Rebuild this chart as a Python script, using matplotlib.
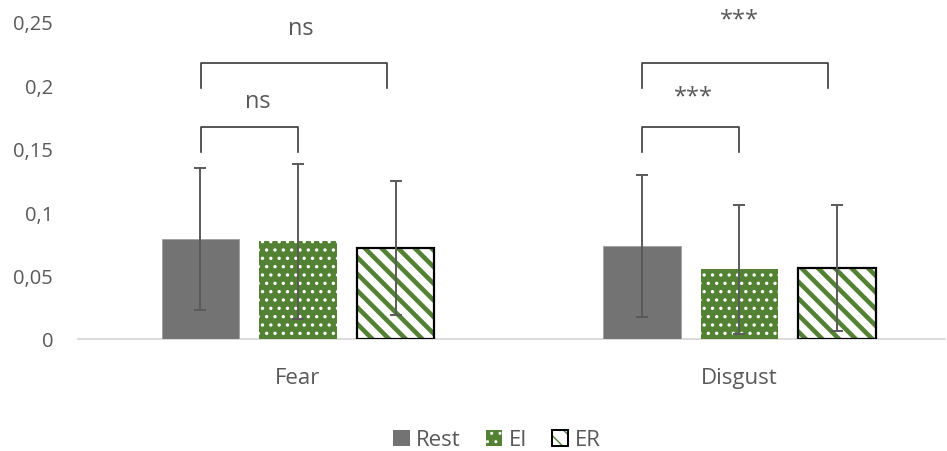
import matplotlib
matplotlib.use("Agg")
import matplotlib.pyplot as plt
from matplotlib.patches import Patch
import numpy as np

# Data
categories = ["Fear", "Disgust"]
series = ["Rest", "EI", "ER"]
means = {
    "Rest": [0.079, 0.073],
    "EI": [0.077, 0.055],
    "ER": [0.072, 0.056],
}
errors = {
    "Rest": [0.056, 0.056],
    "EI": [0.061, 0.051],
    "ER": [0.053, 0.050],
}
ytick_values = [0, 0.05, 0.1, 0.15, 0.2, 0.25]
ytick_labels = ["0", "0,05", "0,1", "0,15", "0,2", "0,25"]
# significance labels per category: inner (Rest vs EI), outer (Rest vs ER)
sig_inner = ["ns", "***"]
sig_outer = ["ns", "***"]

plt.rcParams["font.family"] = ["Open Sans", "DejaVu Sans"]
TEXT = "#595959"
GREEN = "#548235"
GRAY = "#737373"

fig = plt.figure(figsize=(9.47, 4.52), dpi=100)
ax = fig.add_axes([78 / 947, 1 - 340 / 452, (945 - 78) / 947, (340 - 23) / 452])

x = np.arange(len(categories))
offsets = {"Rest": -0.221, "EI": 0.0, "ER": 0.221}
width = 0.175

def hatch_lw(artists, lw):
    for a in artists:
        if hasattr(a, "set_hatch_linewidth"):
            a.set_hatch_linewidth(lw)

err_kw = dict(ecolor="#5a5a5a", elinewidth=1.4, capsize=4.5, capthick=1.4)

b_rest = ax.bar(x + offsets["Rest"], means["Rest"], width, color=GRAY,
                edgecolor="#a0a0a0", linewidth=0.6, zorder=2)
with plt.rc_context({"hatch.linewidth": 1.2}):
    b_ei = ax.bar(x + offsets["EI"], means["EI"], width, color=GREEN,
                  edgecolor="white", linewidth=0, hatch="..", zorder=2)
hatch_lw(b_ei, 1.2)
with plt.rc_context({"hatch.linewidth": 3.3}):
    b_er = ax.bar(x + offsets["ER"], means["ER"], width, color="white",
                  edgecolor=GREEN, linewidth=0, hatch="\\\\", zorder=2)
hatch_lw(b_er, 3.3)
b_er_edge = ax.bar(x + offsets["ER"], means["ER"], width, color="none",
                   edgecolor="black", linewidth=1.6, zorder=3)

for s in series:
    ax.errorbar(x + offsets[s], means[s], yerr=errors[s], fmt="none",
                zorder=4, **err_kw)

ax.set_ylim(0, 0.25)
ax.set_xlim(-0.4983, 1.4655)
ax.set_yticks(ytick_values)
ax.set_yticklabels(ytick_labels)
ax.set_xticks(x)
ax.set_xticklabels(categories)
ax.tick_params(axis="y", length=0, pad=18, labelsize=14.5, labelcolor=TEXT)
ax.tick_params(axis="x", length=0, pad=20, labelsize=16, labelcolor=TEXT)
for side in ["top", "right", "left"]:
    ax.spines[side].set_visible(False)
ax.spines["bottom"].set_color("#d9d9d9")
ax.spines["bottom"].set_linewidth(1.3)
ax.spines["bottom"].set_zorder(1)

# significance brackets
BR = "#3a3a3a"
for i in range(len(categories)):
    left = x[i] - 0.2197
    right_o = x[i] + 0.2016
    ax.plot([left, left, right_o, right_o], [0.198, 0.2177, 0.2177, 0.198],
            color=BR, lw=1.2, clip_on=False, zorder=5)
    right_i = x[i] + 0.0
    ax.plot([left, left, right_i, right_i], [0.1475, 0.1674, 0.1674, 0.1475],
            color=BR, lw=1.2, clip_on=False, zorder=5)

ann_kw = dict(ha="center", va="baseline", color=TEXT, fontsize=17, clip_on=False)
ax.text(x[0] + 0.006, 0.2405, sig_outer[0], **ann_kw)
ax.text(x[0] - 0.092, 0.183, sig_inner[0], **ann_kw)
ax.text(x[1] + 0.0, 0.2475, sig_outer[1], **ann_kw)
ax.text(x[1] - 0.105, 0.1865, sig_inner[1], **ann_kw)

# legend
h_rest = Patch(facecolor=GRAY, edgecolor="none")
with plt.rc_context({"hatch.linewidth": 1.2}):
    h_ei = Patch(facecolor=GREEN, edgecolor="white", linewidth=0, hatch="..")
with plt.rc_context({"hatch.linewidth": 3.0}):
    h_er_fill = Patch(facecolor="white", edgecolor=GREEN, linewidth=0, hatch="\\\\")
hatch_lw([h_ei], 1.2)
hatch_lw([h_er_fill], 3.0)
h_er_edge = Patch(facecolor="none", edgecolor="black", linewidth=1.4)
leg = fig.legend([h_rest, h_ei, (h_er_fill, h_er_edge)], series,
                 loc="center", bbox_to_anchor=(497 / 947, 1 - 441 / 452),
                 ncol=3, frameon=False, fontsize=16, handlelength=0.75,
                 handleheight=0.75, handletextpad=0.3, columnspacing=1.1,
                 labelcolor=TEXT)

fig.savefig("out.png", dpi=100)
